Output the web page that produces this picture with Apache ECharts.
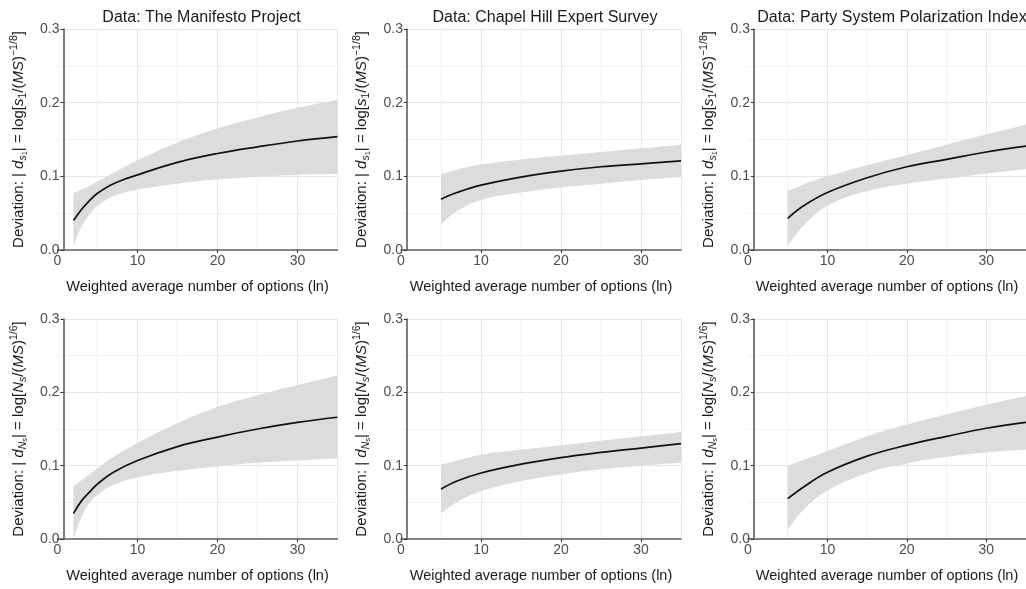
<!DOCTYPE html>
<html>
<head>
<meta charset="utf-8">
<script src="https://cdn.jsdelivr.net/npm/echarts@6/dist/echarts.min.js"></script>
<style>html,body{margin:0;padding:0;background:#fff}#c{width:1026px;height:589px}</style>
</head>
<body>
<div id="c"></div>
<script>
// ---- data ----
const panelTitles = ["Data: The Manifesto Project", "Data: Chapel Hill Expert Survey", "Data: Party System Polarization Index"];
const xTitle = "Weighted average number of options (ln)";

const xTL = [2, 3, 4, 5, 7, 10, 15, 20, 25, 30, 35];
const midTL = [0.040, 0.055, 0.067, 0.077, 0.090, 0.102, 0.119, 0.131, 0.140, 0.148, 0.154];
const loTL  = [0.005, 0.032, 0.048, 0.060, 0.073, 0.082, 0.090, 0.096, 0.099, 0.102, 0.103];
const hiTL  = [0.077, 0.082, 0.087, 0.093, 0.105, 0.122, 0.146, 0.165, 0.180, 0.193, 0.204];

const xTM = [5, 7, 10, 15, 20, 25, 30, 35];
const midTM = [0.069, 0.078, 0.088, 0.099, 0.107, 0.113, 0.117, 0.121];
const loTM  = [0.035, 0.053, 0.068, 0.078, 0.085, 0.090, 0.095, 0.099];
const hiTM  = [0.103, 0.109, 0.116, 0.123, 0.128, 0.133, 0.138, 0.143];

const xTR = [5, 7, 10, 15, 20, 25, 30, 35];
const midTR = [0.043, 0.060, 0.078, 0.098, 0.113, 0.123, 0.133, 0.141];
const loTR  = [0.006, 0.033, 0.060, 0.080, 0.090, 0.097, 0.104, 0.110];
const hiTR  = [0.080, 0.089, 0.100, 0.115, 0.129, 0.143, 0.157, 0.170];

const xBL = [2, 3, 4, 5, 7, 10, 15, 20, 25, 30, 35];
const midBL = [0.035, 0.052, 0.064, 0.075, 0.091, 0.107, 0.126, 0.139, 0.150, 0.159, 0.166];
const loBL  = [0.001, 0.030, 0.049, 0.060, 0.074, 0.084, 0.093, 0.099, 0.104, 0.107, 0.110];
const hiBL  = [0.072, 0.080, 0.088, 0.096, 0.112, 0.131, 0.158, 0.180, 0.196, 0.210, 0.223];

const xBM = [5, 7, 10, 15, 20, 25, 30, 35];
const midBM = [0.068, 0.079, 0.090, 0.102, 0.111, 0.118, 0.124, 0.130];
const loBM  = [0.035, 0.050, 0.065, 0.079, 0.088, 0.095, 0.100, 0.104];
const hiBM  = [0.101, 0.107, 0.115, 0.122, 0.128, 0.134, 0.140, 0.146];

const xBR = [5, 7, 10, 15, 20, 25, 30, 35];
const midBR = [0.055, 0.071, 0.091, 0.113, 0.128, 0.140, 0.151, 0.159];
const loBR  = [0.013, 0.040, 0.066, 0.090, 0.103, 0.112, 0.118, 0.122];
const hiBR  = [0.100, 0.108, 0.120, 0.140, 0.156, 0.170, 0.183, 0.195];

const yTicks = [0, 0.1, 0.2, 0.3];
const xTicks = [0, 10, 20, 30];

const yNameTop = "{n|Deviation: | }{i|d}{sub|s}{ss|1}{n|| = log[}{i|s}{sub2|1}{n|/(}{i|MS}{n|)}{sup|−1/8}{n|]}";
const yNameBot = "{n|Deviation: | }{i|d}{sub|N}{ss|s}{n|| = log[}{i|N}{sub|s}{n|/(}{i|MS}{n|)}{sup|1/6}{n|]}";

// ---- layout ----
const FONT = "'Liberation Sans', Arial, sans-serif";
const panels = [
  {x: xTL, mid: midTL, lo: loTL, hi: hiTL, left: 57.5, top: 29, h: 221, yName: yNameTop, title: panelTitles[0]},
  {x: xTM, mid: midTM, lo: loTM, hi: hiTM, left: 401, top: 29, h: 221, yName: yNameTop, title: panelTitles[1]},
  {x: xTR, mid: midTR, lo: loTR, hi: hiTR, left: 748, top: 29, h: 221, yName: yNameTop, title: panelTitles[2]},
  {x: xBL, mid: midBL, lo: loBL, hi: hiBL, left: 57.5, top: 319, h: 220, yName: yNameBot},
  {x: xBM, mid: midBM, lo: loBM, hi: hiBM, left: 401, top: 319, h: 220, yName: yNameBot},
  {x: xBR, mid: midBR, lo: loBR, hi: hiBR, left: 748, top: 319, h: 220, yName: yNameBot}
];
const W = 280;
const BAND = '#dcdcdc';
const TXT = '#1a1a1a';

const rich = {
  n: {fontSize: 15, color: TXT, fontFamily: FONT, lineHeight: 20},
  i: {fontSize: 15, color: TXT, fontFamily: FONT, fontStyle: 'italic', lineHeight: 20},
  sub: {fontSize: 10.5, color: TXT, fontFamily: FONT, fontStyle: 'italic', lineHeight: 11, verticalAlign: 'bottom'},
  sub2: {fontSize: 10.5, color: TXT, fontFamily: FONT, lineHeight: 11, verticalAlign: 'bottom'},
  ss: {fontSize: 7.5, color: TXT, fontFamily: FONT, lineHeight: 8, verticalAlign: 'bottom'},
  sup: {fontSize: 10.5, color: TXT, fontFamily: FONT, lineHeight: 11, verticalAlign: 'top'}
};

// smooth path through pixel points (same style of smoothing as line series)
function smoothPath(pts, s) {
  let d = '';
  for (let i = 0; i < pts.length - 1; i++) {
    const p0 = pts[Math.max(i - 1, 0)], p1 = pts[i], p2 = pts[i + 1], p3 = pts[Math.min(i + 2, pts.length - 1)];
    const l01 = Math.hypot(p1[0] - p0[0], p1[1] - p0[1]);
    const l12 = Math.hypot(p2[0] - p1[0], p2[1] - p1[1]);
    const l23 = Math.hypot(p3[0] - p2[0], p3[1] - p2[1]);
    const r1 = (l01 + l12) ? l12 / (l01 + l12) : 0;
    const r2 = (l12 + l23) ? l12 / (l12 + l23) : 0;
    const c1 = [p1[0] + (p2[0] - p0[0]) * s * r1, p1[1] + (p2[1] - p0[1]) * s * r1];
    const c2 = [p2[0] - (p3[0] - p1[0]) * s * r2, p2[1] - (p3[1] - p1[1]) * s * r2];
    d += ' C' + c1[0] + ',' + c1[1] + ' ' + c2[0] + ',' + c2[1] + ' ' + p2[0] + ',' + p2[1];
  }
  return d;
}

const grid = [], xAxis = [], yAxis = [], series = [], title = [];
panels.forEach((p, k) => {
  grid.push({left: p.left, top: p.top, width: W, height: p.h, containLabel: false});
  if (p.title) title.push({text: p.title, left: p.left + W / 2 - 1, top: 5, textAlign: 'center',
    textStyle: {fontFamily: FONT, fontSize: 16, fontWeight: 'normal', color: TXT}});
  xAxis.push({
    type: 'value', gridIndex: k, min: xTicks[0], max: 35, interval: 10,
    name: xTitle, nameLocation: 'middle', nameGap: 29,
    nameTextStyle: {fontFamily: FONT, fontSize: 14.5, color: TXT},
    axisLine: {show: true, onZero: false, lineStyle: {color: '#5e5e5e', width: 1.6}},
    axisTick: {show: true, length: 3, lineStyle: {color: '#333'}},
    axisLabel: {color: '#4d4d4d', fontFamily: FONT, fontSize: 14, margin: 4, showMaxLabel: false},
    splitLine: {show: true, showMinLine: false, lineStyle: {color: '#e6e6e6', width: 1}},
    minorTick: {show: false, splitNumber: 2},
    minorSplitLine: {show: true, lineStyle: {color: '#f1f1f1', width: 1}}
  });
  yAxis.push({
    type: 'value', gridIndex: k, min: yTicks[0], max: yTicks[yTicks.length - 1], interval: 0.1,
    offset: -6,
    name: p.yName, nameLocation: 'middle', nameGap: 35, nameRotate: 90,
    nameTextStyle: {rich: rich},
    axisLine: {show: true, onZero: false, lineStyle: {color: '#5e5e5e', width: 1.6}},
    axisTick: {show: true, length: 3, lineStyle: {color: '#333'}},
    axisLabel: {color: '#4d4d4d', fontFamily: FONT, fontSize: 14, margin: 4, formatter: v => v.toFixed(1)},
    splitLine: {show: true, showMinLine: false, lineStyle: {color: '#e6e6e6', width: 1}},
    minorTick: {show: false, splitNumber: 2},
    minorSplitLine: {show: true, lineStyle: {color: '#f1f1f1', width: 1}}
  });
  // confidence band
  series.push({
    type: 'custom', xAxisIndex: k, yAxisIndex: k, silent: true, z: 1,
    data: p.x.map((x, j) => [x, p.lo[j], p.hi[j]]),
    encode: {x: 0, y: [1, 2]},
    renderItem: function (params, api) {
      if (params.dataIndex !== 0) return null;
      const up = p.x.map((x, j) => api.coord([x, p.hi[j]]));
      const dn = p.x.map((x, j) => api.coord([x, p.lo[j]])).reverse();
      const d = 'M' + up[0][0] + ',' + up[0][1] + smoothPath(up, 0.4) +
        ' L' + dn[0][0] + ',' + dn[0][1] + smoothPath(dn, 0.4) + ' Z';
      return {type: 'path', shape: {pathData: d}, style: {fill: BAND, stroke: null}};
    }
  });
  // fitted line
  series.push({
    type: 'line', xAxisIndex: k, yAxisIndex: k, silent: true, z: 3,
    data: p.x.map((x, j) => [x, p.mid[j]]),
    showSymbol: false, symbol: 'none', smooth: 0.4,
    lineStyle: {color: '#111', width: 1.7}
  });
});

const chart = echarts.init(document.getElementById('c'), null, {renderer: 'canvas'});
chart.setOption({
  animation: false,
  backgroundColor: '#fff',
  textStyle: {fontFamily: FONT},
  title, grid, xAxis, yAxis, series
});
</script>
</body>
</html>
